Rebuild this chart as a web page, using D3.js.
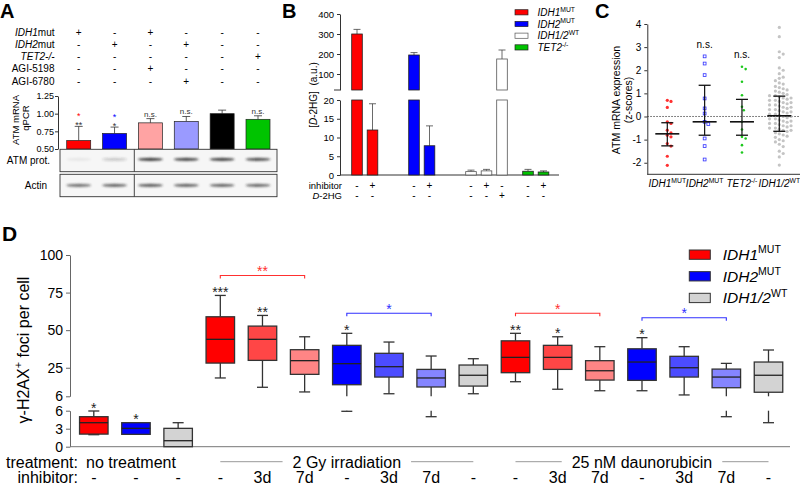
<!DOCTYPE html>
<html><head><meta charset="utf-8">
<script src="https://cdn.jsdelivr.net/npm/d3@7/dist/d3.min.js"></script>
<style>
html,body{margin:0;padding:0;background:#fff;}
svg{display:block;font-family:"Liberation Sans",Arial,Helvetica,sans-serif;}
</style></head>
<body>
<svg id="fig" width="800" height="485"></svg>
<script>
// ===== Panel A data =====
const aRowItalic = ["IDH1", "IDH2", "TET2-/-", "", ""];
const aRowPlain  = ["mut", "mut", "", "AGI-5198", "AGI-6780"];
const aSigns = [
  ["+","-","+","-","-","-"],
  ["-","+","-","+","-","-"],
  ["-","-","-","-","-","+"],
  ["-","-","+","-","-","-"],
  ["-","-","-","+","-","-"]
];
const aValues = [0.62, 0.72, 0.87, 0.89, 1.00, 0.92];
const aErrors = [0.20, 0.09, 0.06, 0.07, 0.05, 0.05];
const aSigBlack = ["**", "*", "n.s.", "n.s.", "", "n.s."];
const aSigColor = ["*", "*", "", "", "", ""];
const aTicks = [0.50, 0.75, 1.00, 1.25];
const aAtmBand = [0.06, 0.22, 0.9, 0.85, 0.88, 0.8];
const aActinBand = [0.65, 0.7, 0.75, 0.72, 0.7, 0.68];

// ===== Panel B data =====
const bGroups = ["IDH1MUT", "IDH2MUT", "IDH12WT", "TET2"];
const bValues = [[300, 12], [195, 7.8], [0.9, 1.1, 175], [1.0, 0.8]];
const bErrors = [[23, 7], [12, 5.3], [0.4, 0.4, 45], [0.5, 0.3]];
const bInhibitor = [["-","+"], ["-","+"], ["-","+","-"], ["-","+"]];
const bD2HG = [["-","-"], ["-","-"], ["-","-","+"], ["-","-"]];
const bTicksTop = [100, 200, 300, 400];
const bTicksBottom = [0, 5, 10, 15, 20];

// ===== Panel C data =====
const cGroups = ["IDH1", "IDH2", "TET2", "WT"];
const cPoints = [
  [0.70, 0.65, 0.39, -0.23, -0.30, -0.59, -0.71, -0.81, -0.88, -1.17, -1.28, -1.72, -2.11],
  [2.60, 2.29, 1.79, 0.78, 0.35, 0.13, -0.23, -0.33, -0.95, -1.28, -1.86],
  [2.15, 2.05, 1.50, 0.92, 0.42, 0.27, -0.23, -0.56, -0.88, -0.95, -1.24, -1.56],
  [3.85, 3.45, 2.80, 2.70, 2.55, 2.10, 2.00, 1.85, 1.70, 1.65, 1.55, 1.45, 1.40, 1.30, 1.25,
   1.20, 1.15, 1.10, 1.05, 1.00, 0.95, 0.90, 0.90, 0.85, 0.80, 0.80, 0.75, 0.70, 0.70, 0.65,
   0.60, 0.60, 0.55, 0.50, 0.50, 0.45, 0.40, 0.40, 0.35, 0.30, 0.30, 0.25, 0.20, 0.20, 0.15,
   0.10, 0.10, 0.05, 0.00, 0.00, -0.05, -0.10, -0.10, -0.15, -0.20, -0.20, -0.25, -0.30, -0.30,
   -0.35, -0.40, -0.40, -0.45, -0.50, -0.50, -0.55, -0.60, -0.60, -0.65, -0.70, -0.75, -0.80,
   -0.85, -0.90, -1.00, -1.05, -1.10, -1.20, -1.30, -1.50, -1.60, -1.75, -2.10]
];
const cCenter = [-0.75, -0.23, -0.23, 0.03];
const cUpper = [-0.27, 1.35, 0.74, 0.88];
const cLower = [-1.27, -0.81, -0.81, -0.64];
const cTicks = [-2, -1, 0, 1, 2, 3, 4];
const cSig = ["", "n.s.", "n.s.", ""];

// ===== Panel D data =====
const dGenotype = ["IDH1","IDH2","WT", "IDH1","IDH1","IDH1","IDH2","IDH2","IDH2","WT",
                   "IDH1","IDH1","IDH1","IDH2","IDH2","IDH2","WT"];
const dInhibitor = ["-","-","-", "-","3d","7d","-","3d","7d","-", "-","3d","7d","-","3d","7d","-"];
const dMin = [2.0, 2.06, 0.0, 18.2, 12.0, 8.9, 5.9, 7.7, 5.0, 7.7, 15.7, 10.7, 9.7, 9.7, 6.9, 5.0, 4.0];
const dQ1  = [2.1, 2.06, 0.0, 28.1, 29.9, 20.6, 13.7, 18.8, 12.2, 12.8, 21.7, 23.9, 16.8, 16.6, 18.8, 11.7, 8.7];
const dMed = [4.0, 3.06, 1.0, 43.9, 43.9, 29.7, 27.7, 25.7, 18.2, 20.0, 31.9, 31.9, 23.0, 28.8, 25.0, 18.8, 20.0];
const dQ3  = [5.0, 4.0, 3.06, 58.9, 52.7, 37.0, 39.9, 34.6, 23.9, 26.8, 42.9, 39.9, 29.7, 37.6, 32.6, 24.1, 28.8];
const dMax = [5.95, 4.0, 4.0, 73.1, 59.8, 45.6, 47.9, 42.1, 32.8, 31.0, 47.9, 45.6, 39.0, 45.0, 39.0, 27.9, 36.8];
const dSig = ["*","*","","***","**","","*","","","","**","*","","*","","",""];
const dBrackets = [[3, 5, "IDH1", "**"], [6, 8, "IDH2", "*"], [10, 12, "IDH1", "*"], [13, 15, "IDH2", "*"]];
const dTreatments = [["no treatment", 0, 2], ["2 Gy irradiation", 3, 9], ["25 nM daunorubicin", 10, 16]];
const dTicksUpper = [6, 25, 50, 75, 100];
const dTicksLower = [0, 3, 6];

// ===== colours =====
const RED = "#ff0000", BLUE = "#0000ff", GREEN = "#00c400";
const dColors = {
  IDH1: {"-": "#ff0000", "3d": "#ff4646", "7d": "#ff8585"},
  IDH2: {"-": "#0000ff", "3d": "#4c4cff", "7d": "#8585ff"},
  WT:   {"-": "#d3d3d3"}
};
const aColors = ["#ff0000", "#0000ff", "#ffa3a3", "#9a9aff", "#000000", "#00c400"];
const plain = d => String(d);

const svg = d3.select("#fig");
const defs = svg.append("defs");
defs.append("filter").attr("id", "blur").attr("x", "-30%").attr("y", "-200%")
  .attr("width", "160%").attr("height", "500%")
  .append("feGaussianBlur").attr("stdDeviation", "0.9");

function rich(g, x, y, parts, size, anchor) {
  const t = g.append("text").attr("x", x).attr("y", y).attr("font-size", size)
    .attr("text-anchor", anchor || "start").attr("fill", "#000");
  let raised = false;
  parts.forEach(p => {
    const s = t.append("tspan").text(p[0]);
    const st = p[1] || "";
    if (st.includes("i")) s.attr("font-style", "italic");
    if (st.includes("s")) {
      s.attr("font-size", size * 0.68);
      if (!raised) { s.attr("dy", -size * 0.42); raised = true; }
    } else if (raised) { s.attr("dy", size * 0.42); raised = false; }
  });
  return t;
}
function styleAxis(g, size) {
  g.selectAll("text").attr("font-size", size).attr("fill", "#000")
    .attr("font-family", '"Liberation Sans",Arial,sans-serif');
  g.selectAll("line,path").attr("stroke", "#333");
}

// ================= PANEL A =================
const gA = svg.append("g");
gA.append("text").attr("x", 0).attr("y", 18).attr("font-size", 20).attr("font-weight", "bold").text("A");
const xA = d3.scalePoint().domain(d3.range(aValues.length)).range([78.7, 258]);
const rowA = d3.scalePoint().domain(d3.range(aRowPlain.length)).range([35.5, 84.5]);
const yA = d3.scaleLinear().domain([0.5, 1.25]).range([149, 96]);
aRowPlain.forEach((p, i) => {
  rich(gA, 54.5, rowA(i), [[aRowItalic[i], "i"], [p, ""]], 10, "end");
  aSigns[i].forEach((s, j) => {
    gA.append("text").attr("x", xA(j)).attr("y", rowA(i)).attr("font-size", 10)
      .attr("text-anchor", "middle").text(s);
  });
});
const axA = gA.append("g").attr("transform", "translate(58,0)")
  .call(d3.axisLeft(yA).tickValues(aTicks).tickFormat(d3.format(".2f")).tickSize(3).tickSizeOuter(0));
styleAxis(axA, 9);
axA.selectAll("text").attr("x", -4);
gA.append("text").attr("transform", "translate(19,120) rotate(-90)").attr("text-anchor", "middle")
  .attr("font-size", 9.5).text("ATM mRNA");
gA.append("text").attr("transform", "translate(29,118) rotate(-90)").attr("text-anchor", "middle")
  .attr("font-size", 9.5).text("qPCR");
aValues.forEach((v, i) => {
  const x = xA(i), e = aErrors[i];
  gA.append("line").attr("x1", x).attr("x2", x).attr("y1", yA(v)).attr("y2", yA(v + e)).attr("stroke", "#333").attr("stroke-width", 0.8);
  gA.append("line").attr("x1", x - 4).attr("x2", x + 4).attr("y1", yA(v + e)).attr("y2", yA(v + e)).attr("stroke", "#333").attr("stroke-width", 0.8);
  gA.append("rect").attr("x", x - 12).attr("width", 24).attr("y", yA(v)).attr("height", yA(0.5) - yA(v))
    .attr("fill", aColors[i]).attr("stroke", "#222").attr("stroke-width", 0.7);
  const top = yA(v + e);
  if (aSigBlack[i]) {
    const isNs = aSigBlack[i] === "n.s.";
    gA.append("text").attr("x", x).attr("y", isNs ? top - 2 : top + 1.5).attr("text-anchor", "middle")
      .attr("font-size", isNs ? 8 : 9).attr("fill", "#333").text(aSigBlack[i]);
  }
  if (aSigColor[i]) {
    gA.append("text").attr("x", x).attr("y", top - 7.5).attr("text-anchor", "middle")
      .attr("font-size", 9).attr("fill", aColors[i]).text(aSigColor[i]);
  }
});
// blots
[[149.3, "ATM prot.", aAtmBand, 159.3], [174.3, "Actin", aActinBand, 185.3]].forEach(([y0, lab, bands, by]) => {
  gA.append("rect").attr("x", 60).attr("y", y0).attr("width", 217).attr("height", 22.4)
    .attr("fill", "#f6f6f6").attr("stroke", "#333").attr("stroke-width", 0.9);
  gA.append("line").attr("x1", 134.3).attr("x2", 134.3).attr("y1", y0).attr("y2", y0 + 22.4).attr("stroke", "#333").attr("stroke-width", 0.9);
  gA.append("text").attr("x", lab === "Actin" ? 47 : 50).attr("y", y0 + 14.5).attr("text-anchor", "end")
    .attr("font-size", 10).text(lab);
  bands.forEach((b, i) => {
    gA.append("ellipse").attr("cx", xA(i)).attr("cy", by).attr("rx", 12.5).attr("ry", 1.6)
      .attr("fill", "#303030").attr("fill-opacity", b).attr("filter", "url(#blur)");
  });
});

// ================= PANEL B =================
const gB = svg.append("g");
gB.append("text").attr("x", 282).attr("y", 18).attr("font-size", 20).attr("font-weight", "bold").text("B");
const xB = d3.scalePoint().domain(bGroups).range([357, 528]);
const subStep = 15.5;
const yBt = d3.scaleLinear().domain([20, 400]).range([90, 14]);
const yBb = d3.scaleLinear().domain([0, 20]).range([175, 100]);
const axBt = gB.append("g").attr("transform", "translate(340,0)")
  .call(d3.axisLeft(yBt).tickValues(bTicksTop).tickFormat(plain).tickSize(3).tickSizeOuter(0));
styleAxis(axBt, 9.5);
axBt.append("line").attr("x1", -6).attr("x2", 0).attr("y1", yBt(20)).attr("y2", yBt(20)).attr("stroke", "#333");
const axBb = gB.append("g").attr("transform", "translate(340,0)")
  .call(d3.axisLeft(yBb).tickValues(bTicksBottom).tickFormat(plain).tickSize(3).tickSizeOuter(0));
styleAxis(axBb, 9.5);
gB.append("line").attr("x1", 340).attr("x2", 559).attr("y1", yBb(0)).attr("y2", yBb(0)).attr("stroke", "#333");
rich(gB.append("g").attr("transform", "translate(317,95) rotate(-90)"), 0, 0,
  [["[", ""], ["D", "i"], ["-2HG]\u00a0\u00a0(a.u.)", ""]], 10, "middle");
const bFill = {IDH1MUT: RED, IDH2MUT: BLUE, IDH12WT: "#ffffff", TET2: GREEN};
bGroups.forEach((g, gi) => {
  bValues[gi].forEach((v, k) => {
    const x = xB(g) + k * subStep, e = bErrors[gi][k];
    const top = v + e;
    const stroke = g === "IDH12WT" ? "#555" : "#222";
    const ey = top > 20 ? yBt(top) : yBb(top);
    const sy = v > 20 ? yBt(v) : yBb(v);
    gB.append("line").attr("x1", x).attr("x2", x).attr("y1", sy).attr("y2", ey).attr("stroke", "#444").attr("stroke-width", 0.8);
    gB.append("line").attr("x1", x - 3.5).attr("x2", x + 3.5).attr("y1", ey).attr("y2", ey).attr("stroke", "#444").attr("stroke-width", 0.8);
    const vb = Math.min(v, 20);
    gB.append("rect").attr("x", x - 5.3).attr("width", 10.6).attr("y", yBb(vb)).attr("height", yBb(0) - yBb(vb))
      .attr("fill", bFill[g]).attr("stroke", stroke).attr("stroke-width", 0.8);
    if (v > 20) {
      gB.append("rect").attr("x", x - 5.3).attr("width", 10.6).attr("y", yBt(v)).attr("height", yBt(20) - yBt(v))
        .attr("fill", bFill[g]).attr("stroke", stroke).attr("stroke-width", 0.8);
    }
    gB.append("text").attr("x", x).attr("y", 188.5).attr("text-anchor", "middle").attr("font-size", 10).text(bInhibitor[gi][k]);
    gB.append("text").attr("x", x).attr("y", 199).attr("text-anchor", "middle").attr("font-size", 10).text(bD2HG[gi][k]);
  });
});
gB.append("text").attr("x", 342).attr("y", 188.5).attr("text-anchor", "end").attr("font-size", 9.5).text("inhibitor");
rich(gB, 342, 199, [["D", "i"], ["-2HG", ""]], 9.5, "end");
const bLegend = [[RED, "#222", [["IDH1", "i"], ["MUT", "s"]]], [BLUE, "#222", [["IDH2", "i"], ["MUT", "s"]]],
                 ["#fff", "#555", [["IDH1/2", "i"], ["WT", "s"]]], [GREEN, "#222", [["TET2", "i"], ["-/-", "s"]]]];
bLegend.forEach(([f, s, parts], i) => {
  const y = 12.3 + i * 11.7;
  gB.append("rect").attr("x", 515).attr("y", y - 2.6).attr("width", 13).attr("height", 5.2).attr("fill", f).attr("stroke", s).attr("stroke-width", 0.7);
  rich(gB, 537.5, y + 3.6, parts, 10, "start");
});

// ================= PANEL C =================
const gC = svg.append("g");
gC.append("text").attr("x", 595).attr("y", 18).attr("font-size", 20).attr("font-weight", "bold").text("C");
const xC = d3.scalePoint().domain(cGroups).range([667.3, 779.3]);
const yC = d3.scaleLinear().domain([-2.5, 4]).range([174.3, 24]);
const axC = gC.append("g").attr("transform", "translate(647.3,0)")
  .call(d3.axisLeft(yC).tickValues(cTicks).tickFormat(plain).tickSize(3).tickSizeOuter(0));
styleAxis(axC, 10);
gC.append("line").attr("x1", 647.3).attr("x2", 800).attr("y1", yC(-2.5)).attr("y2", yC(-2.5)).attr("stroke", "#333");
gC.append("line").attr("x1", 647.3).attr("x2", 800).attr("y1", yC(0)).attr("y2", yC(0))
  .attr("stroke", "#333").attr("stroke-dasharray", "1.5,1.5").attr("stroke-width", 0.8);
gC.append("text").attr("transform", "translate(620,100) rotate(-90)").attr("text-anchor", "middle").attr("font-size", 10.5).text("ATM mRNA expression");
gC.append("text").attr("transform", "translate(631.5,100) rotate(-90)").attr("text-anchor", "middle").attr("font-size", 10.5).text("(z-scores)");
function swarm(vals, cx, r) {
  const pts = vals.map(v => ({v, y: yC(v)})).sort((a, b) => a.y - b.y);
  const placed = [];
  pts.forEach(p => {
    for (let k = 0; k < 80; k++) {
      const off = k === 0 ? 0 : (k % 2 ? 1 : -1) * Math.ceil(k / 2) * r * 1.15;
      const x = cx + off;
      if (placed.every(q => (q.x - x) ** 2 + (q.y - p.y) ** 2 >= (2 * r + 0.6) ** 2)) { p.x = x; placed.push(p); break; }
    }
  });
  return placed;
}
const cColors = {IDH1: "#ff3030", IDH2: "#3030ff", TET2: "#1ec81e", WT: "#c4c4c4"};
cGroups.forEach((g, i) => {
  const pts = swarm(cPoints[i], xC(g), g === "WT" ? 1.7 : 1.6);
  pts.forEach(p => {
    if (g === "IDH2") {
      gC.append("rect").attr("x", p.x - 1.4).attr("y", p.y - 1.4).attr("width", 2.8).attr("height", 2.8)
        .attr("fill", "none").attr("stroke", cColors[g]).attr("stroke-width", 0.8);
    } else {
      gC.append("circle").attr("cx", p.x).attr("cy", p.y).attr("r", g === "TET2" ? 1.3 : 1.6).attr("fill", cColors[g]);
    }
  });
});
cGroups.forEach((g, i) => {
  const x = xC(g);
  const l = (x1, x2, y1, y2, w) => gC.append("line").attr("x1", x1).attr("x2", x2).attr("y1", y1).attr("y2", y2).attr("stroke", "#111").attr("stroke-width", w);
  l(x, x, yC(cLower[i]), yC(cUpper[i]), 1.2);
  l(x - 12, x + 12, yC(cCenter[i]), yC(cCenter[i]), 1.6);
  l(x - 6, x + 6, yC(cUpper[i]), yC(cUpper[i]), 1.3);
  l(x - 6, x + 6, yC(cLower[i]), yC(cLower[i]), 1.3);
  if (cSig[i]) gC.append("text").attr("x", x).attr("y", yC(d3.max(cPoints[i])) - 8.5).attr("text-anchor", "middle").attr("font-size", 10).text(cSig[i]);
});
const cLabels = [[["IDH1", "i"], ["MUT", "s"]], [["IDH2", "i"], ["MUT", "s"]], [["TET2", "i"], ["-/-", "s"]], [["IDH1/2", "i"], ["WT", "s"]]];
cGroups.forEach((g, i) => rich(gC, xC(g), 187, cLabels[i], 10, "middle"));

// ================= PANEL D =================
const gD = svg.append("g");
gD.append("text").attr("x", 2).attr("y", 241).attr("font-size", 21).attr("font-weight", "bold").text("D");
const xD = d3.scalePoint().domain(d3.range(dMed.length)).range([93.8, 768.5]);
const yDu = d3.scaleLinear().domain([6, 100]).range([396.3, 255]);
const yDl = d3.scaleLinear().domain([0, 6]).range([446.7, 410.7]);
const yD = v => v >= 6 ? yDu(v) : yDl(v);
const axDu = gD.append("g").attr("transform", "translate(70,0)")
  .call(d3.axisLeft(yDu).tickValues(dTicksUpper).tickFormat(plain).tickSize(4).tickSizeOuter(0));
styleAxis(axDu, 14);
axDu.selectAll("line,path").attr("stroke", "#666");
const axDl = gD.append("g").attr("transform", "translate(70,0)")
  .call(d3.axisLeft(yDl).tickValues(dTicksLower).tickFormat(plain).tickSize(4).tickSizeOuter(0));
styleAxis(axDl, 14);
axDl.selectAll("line,path").attr("stroke", "#666");
gD.append("line").attr("x1", 70).attr("x2", 790).attr("y1", yDl(0)).attr("y2", yDl(0)).attr("stroke", "#777");
rich(gD.append("g").attr("transform", "translate(29,350) rotate(-90)"), 0, 0,
  [["\u03b3-H2AX", ""], ["+", "s"], [" foci per cell", ""]], 16, "middle");
const bw = 28.5;
dMed.forEach((m, i) => {
  const x = xD(i);
  const fill = dColors[dGenotype[i]][dInhibitor[i]];
  const ln = (y1, y2) => gD.append("line").attr("x1", x).attr("x2", x).attr("y1", y1).attr("y2", y2).attr("stroke", "#333").attr("stroke-width", 1.3);
  const cap = y => gD.append("line").attr("x1", x - 5.5).attr("x2", x + 5.5).attr("y1", y).attr("y2", y).attr("stroke", "#333").attr("stroke-width", 1.3);
  if (dMax[i] > dQ3[i]) { ln(yD(dQ3[i]), yD(dMax[i])); cap(yD(dMax[i])); }
  if (dMin[i] < dQ1[i]) {
    if (dQ1[i] >= 6 && dMin[i] < 6) { ln(yDu(dQ1[i]), yDu(6)); ln(yDl(6), yDl(dMin[i])); }
    else ln(yD(dQ1[i]), yD(dMin[i]));
    cap(yD(dMin[i]));
  }
  gD.append("rect").attr("x", x - bw / 2).attr("width", bw).attr("y", yD(dQ3[i])).attr("height", yD(dQ1[i]) - yD(dQ3[i]))
    .attr("fill", fill).attr("stroke", "#333").attr("stroke-width", 1.3);
  gD.append("line").attr("x1", x - bw / 2).attr("x2", x + bw / 2).attr("y1", yD(m)).attr("y2", yD(m)).attr("stroke", "#222").attr("stroke-width", 1.3);
  if (dSig[i]) gD.append("text").attr("x", x).attr("y", yD(dMax[i]) + 1.5).attr("text-anchor", "middle").attr("font-size", 14).attr("fill", "#222").text(dSig[i]);
  gD.append("text").attr("x", x).attr("y", 483).attr("text-anchor", "middle").attr("font-size", 16).text(dInhibitor[i]);
});
dBrackets.forEach(([a, b, g, lab]) => {
  const col = g === "IDH1" ? "#ff3030" : "#3030ff";
  const top = d3.min(d3.range(a, b + 1), j => yD(dMax[j]));
  const y = top - 20;
  gD.append("path").attr("d", `M${xD(a)},${y + 3}V${y}H${xD(b)}V${y + 3}`).attr("fill", "none").attr("stroke", col).attr("stroke-width", 1.1);
  gD.append("text").attr("x", (xD(a) + xD(b)) / 2).attr("y", y + 0.5).attr("text-anchor", "middle").attr("font-size", 14).attr("fill", col).text(lab);
});
dTreatments.forEach(([lab, a, b]) => {
  const cx = (xD(a) + xD(b)) / 2 - (b - a > 2 ? 0 : 5);
  const t = gD.append("text").attr("x", cx).attr("y", 467.5).attr("text-anchor", "middle").attr("font-size", 16).text(lab);
  if (b - a > 2) {
    const w = t.node().getComputedTextLength();
    gD.append("line").attr("x1", xD(a)).attr("x2", cx - w / 2 - 10).attr("y1", 461.7).attr("y2", 461.7).attr("stroke", "#999");
    gD.append("line").attr("x1", cx + w / 2 + 10).attr("x2", xD(b)).attr("y1", 461.7).attr("y2", 461.7).attr("stroke", "#999");
  }
});
gD.append("text").attr("x", 78).attr("y", 467.5).attr("text-anchor", "end").attr("font-size", 16).text("treatment:");
gD.append("text").attr("x", 78).attr("y", 483).attr("text-anchor", "end").attr("font-size", 16).text("inhibitor:");
[["IDH1", [["IDH1", "i"], ["MUT", "s"]]], ["IDH2", [["IDH2", "i"], ["MUT", "s"]]], ["WT", [["IDH1/2", "i"], ["WT", "s"]]]].forEach(([g, parts], i) => {
  const y = 250 + i * 21.65;
  gD.append("rect").attr("x", 689.3).attr("y", y).attr("width", 21).attr("height", 9.3)
    .attr("fill", dColors[g]["-"]).attr("stroke", "#333").attr("stroke-width", 1);
  rich(gD, 722.7, y + 10, parts, 15.5, "start");
});
</script>
</body></html>
